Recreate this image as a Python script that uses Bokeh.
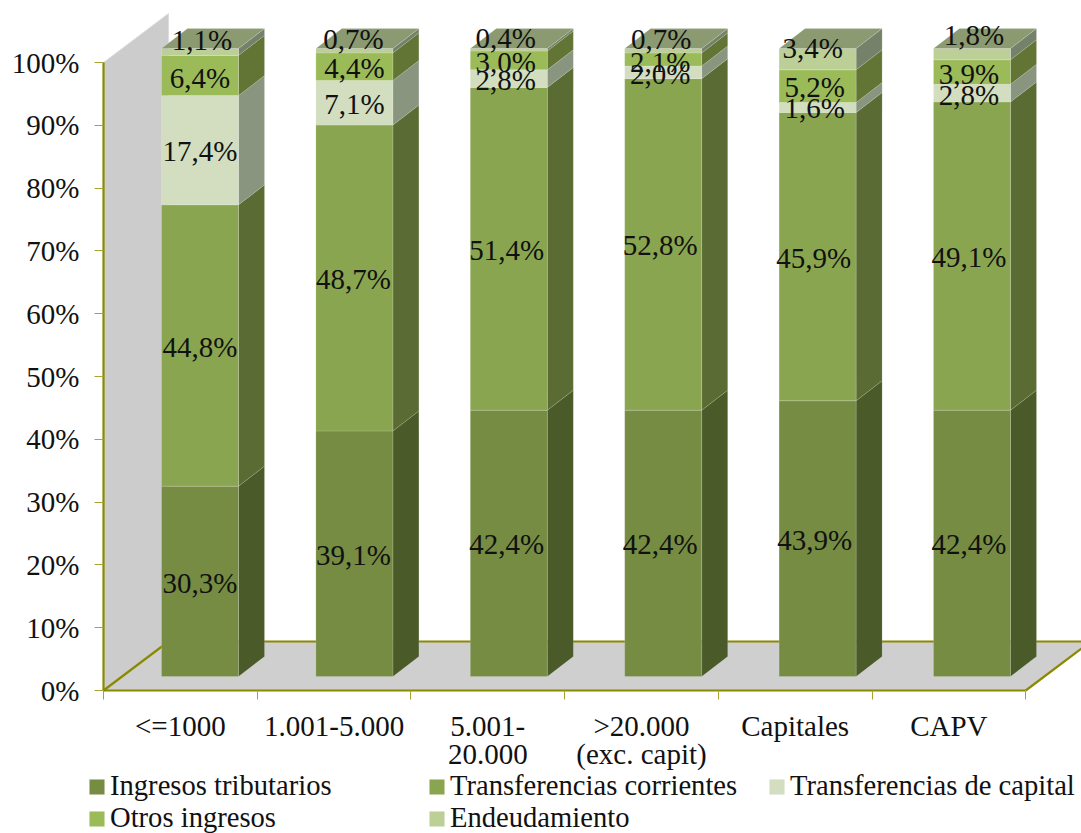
from bokeh.plotting import figure
from bokeh.models import Range1d, FixedTicker, Legend, LegendItem, PrintfTickFormatter, ColumnDataSource
from bokeh.core.properties import value
from bokeh.embed import file_html
from bokeh.resources import INLINE

categories = ["<=1000", "1.001-5.000", "5.001-\n20.000", ">20.000\n(exc. capit)", "Capitales", "CAPV"]
ingresos_tributarios = [30.3, 39.1, 42.4, 42.4, 43.9, 42.4]
transf_corrientes = [44.8, 48.7, 51.4, 52.8, 45.9, 49.1]
transf_capital = [17.4, 7.1, 2.8, 2.0, 1.6, 2.8]
otros_ingresos = [6.4, 4.4, 3.0, 2.1, 5.2, 3.9]
endeudamiento = [1.1, 0.7, 0.4, 0.7, 3.4, 1.8]
series_names = ["Ingresos tributarios", "Transferencias corrientes", "Transferencias de capital", "Otros ingresos", "Endeudamiento"]
series_values = [ingresos_tributarios, transf_corrientes, transf_capital, otros_ingresos, endeudamiento]
y_ticks = [0, 10, 20, 30, 40, 50, 60, 70, 80, 90, 100]

front_colors = ["#768C42", "#8AA550", "#D2DEBF", "#9BBB59", "#BCCF97"]
side_colors = ["#4A5A28", "#5A6B33", "#8A9580", "#627534", "#75826A"]
top_color = "#8B9A70"
wall_color = "#CCCCCC"
floor_color = "#CFCFCF"
olive = "#8A8A00"
FONT = "Liberation Serif"
FS = "29px"

PX_X, PX_Y = 153.7, 6.28           # pixels per category / per percent
bar_x0, bar_w, bar_y0 = 58 / PX_X, 77 / PX_X, 14 / PX_Y
bar_pitch = 154.4 / PX_X
dep_x, dep_y = 26 / PX_X, 20 / PX_Y
wall_x, wall_y = 65 / PX_X, 49 / PX_Y

p = figure(width=1081, height=833, output_backend="svg", toolbar_location=None,
           x_range=Range1d(-103 / PX_X, 978 / PX_X), y_range=Range1d(-143 / PX_Y, 690 / PX_Y),
           min_border_left=0, min_border_right=0, min_border_top=0, min_border_bottom=0,
           frame_width=1081, frame_height=833)
p.outline_line_color = None
p.grid.visible = False
p.background_fill_color = None

n = len(categories)
# back wall and floor
p.patch([0, wall_x, wall_x, 0], [0, wall_y, 100 + wall_y, 100], fill_color=wall_color, line_color="#DDDDDD", line_width=1)
p.patch([0, wall_x, n + wall_x, n], [0, wall_y, wall_y, 0], fill_color=floor_color, line_color=None)
p.line([0, wall_x, n + wall_x, n], [0, wall_y, wall_y, 0], line_color=olive, line_width=2.2)

legend_renderers = []
for s, (vals, fc, sc) in enumerate(zip(series_values, front_colors, side_colors)):
    left, right, bottom, top, sx, sy = [], [], [], [], [], []
    for c in range(n):
        b = bar_y0 + sum(series_values[k][c] for k in range(s))
        t = b + vals[c]
        l = c * bar_pitch + bar_x0
        r = l + bar_w
        left.append(l); right.append(r); bottom.append(b); top.append(t)
        sx.append([r, r + dep_x, r + dep_x, r])
        sy.append([b, b + dep_y, t + dep_y, t])
    p.patches(sx, sy, fill_color=sc, line_color="#FFFFFF", line_alpha=0.12, line_width=1)
    rr = p.quad(left=left, right=right, bottom=bottom, top=top, fill_color=fc, line_color="#FFFFFF", line_alpha=0.15, line_width=1)
    legend_renderers.append(rr)

# top faces
tx, ty = [], []
for c in range(n):
    l = c * bar_pitch + bar_x0
    t = bar_y0 + sum(v[c] for v in series_values)
    tx.append([l, l + dep_x, l + bar_w + dep_x, l + bar_w])
    ty.append([t, t + dep_y, t + dep_y, t])
p.patches(tx, ty, fill_color=top_color, line_color="#FFFFFF", line_alpha=0.15, line_width=1)

# data labels: nudges in screen pixels (positive = down), per series, per category
nudge_y = [[2, 1, 1, 1, 1, 1], [1, 1, 1, 1, 1, 1], [1, 1, 1, 2, 0, 2], [2, 1, 2, 3, 1, 2], [-12, -12, -12, -12, -11, -19]]
nudge_x = [[0, -1, -2, -3, -3, -3], [0, -1, -2, -3, -4, -3], [0, 0, -3, -3, -3, -3], [0, 0, -3, -3, -3, -3], [2, -1, -3, -2, -5, 2]]
lx, ly, lt, ox, oy = [], [], [], [], []
for s, vals in enumerate(series_values):
    for c in range(n):
        b = bar_y0 + sum(series_values[k][c] for k in range(s))
        lx.append(c * bar_pitch + bar_x0 + bar_w / 2)
        ly.append(b + vals[c] / 2)
        lt.append(f"{vals[c]:.1f}%".replace(".", ","))
        ox.append(nudge_x[s][c])
        oy.append(nudge_y[s][c])
src = ColumnDataSource(dict(x=lx, y=ly, t=lt, ox=ox, oy=oy))
p.text(x="x", y="y", text="t", x_offset="ox", y_offset="oy", source=src, text_align="center", text_baseline="middle",
       text_font=value(FONT), text_font_size=value(FS), text_color="#111111")

# axes
ya = p.yaxis[0]
ya.fixed_location = 0
ya.ticker = FixedTicker(ticks=y_ticks)
ya.formatter = PrintfTickFormatter(format="%d%%")
ya.bounds = (0, 100)
ya.axis_line_color = olive
ya.axis_line_width = 2.2
ya.major_tick_line_color = "#A5A533"
ya.major_tick_in = 0
ya.major_tick_out = 9
ya.minor_tick_line_color = None
ya.major_label_standoff = 15
ya.major_label_text_font = FONT
ya.major_label_text_font_size = FS
ya.major_label_text_color = "#111111"

xa = p.xaxis[0]
xa.fixed_location = 0
xa.ticker = FixedTicker(ticks=[i + 0.5 for i in range(n)], minor_ticks=list(range(n + 1)))
xa.major_label_overrides = {i + 0.5: categories[i] for i in range(n)}
xa.bounds = (0, n)
xa.axis_line_color = olive
xa.axis_line_width = 2.2
xa.major_tick_line_color = None
xa.major_tick_in = 0
xa.major_tick_out = 0
xa.minor_tick_line_color = "#A5A533"
xa.minor_tick_in = 0
xa.minor_tick_out = 9
xa.major_label_standoff = 10
xa.major_label_text_font = FONT
xa.major_label_text_font_size = FS
xa.major_label_text_color = "#111111"
xa.major_label_text_line_height = 0.9

legend = Legend(items=[LegendItem(label=nm, renderers=[r]) for nm, r in zip(series_names, legend_renderers)],
                ncols=3, orientation="horizontal", location=(87, -1),
                glyph_width=19, glyph_height=19, label_standoff=4, label_width=317, label_height=28,
                spacing=0, padding=0, margin=0, border_line_color=None, background_fill_color=None,
                background_fill_alpha=0, label_text_font=FONT, label_text_font_size="28.6px", label_text_color="#111111",
                label_text_line_height=0.85)
p.add_layout(legend, "center")

open("out.html", "w").write(file_html(p, INLINE))
